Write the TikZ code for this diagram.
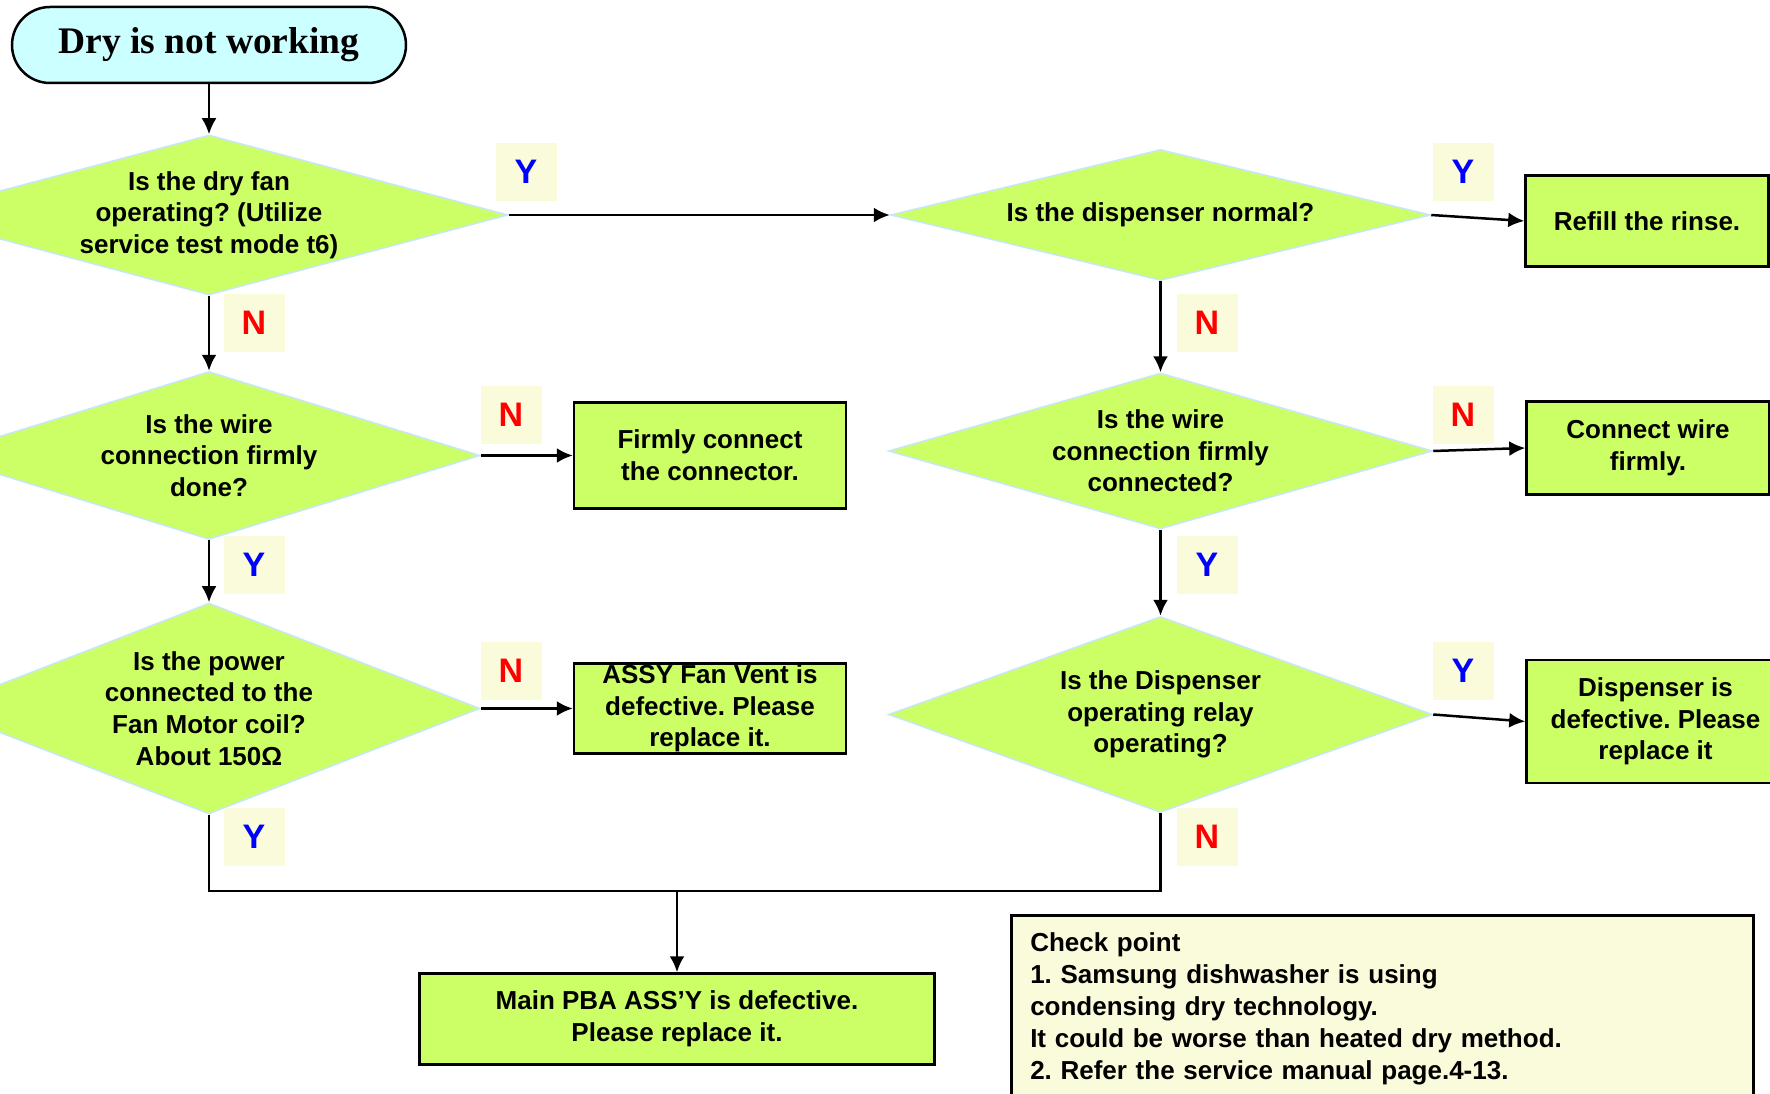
\documentclass[tikz,border=0pt]{standalone}
\usepackage{fontspec}
\setmainfont{Liberation Sans}
\newfontfamily\titlefont{Liberation Serif}
\usepackage{tikz}
\usetikzlibrary{arrows.meta,positioning,shapes.geometric}
\definecolor{qgreen}{HTML}{CCFF66}
\definecolor{edgeblue}{HTML}{C8E6FA}
\definecolor{tagyellow}{HTML}{FAFBDA}
\definecolor{startcyan}{HTML}{CCFFFF}
\newcommand{\qfont}{\fontsize{26}{31.6}\selectfont\bfseries}
\newcommand{\tagfont}{\fontsize{34}{40}\selectfont\bfseries}
\frenchspacing

\begin{document}
\begin{tikzpicture}[
    x=1pt,y=-1pt,
    >={Latex[length=16pt,width=15pt]},
    dec/.style={diamond,draw=edgeblue,line width=1.5pt,fill=qgreen,
                inner sep=0pt,align=center,font=\qfont},
    act/.style={rectangle,draw=black,line width=2.5pt,fill=qgreen,
                inner sep=0pt,align=center,font=\qfont},
    tag/.style={rectangle,fill=tagyellow,minimum width=61pt,minimum height=58pt,
                inner sep=0pt,font=\tagfont},
    ytag/.style={tag,text=blue},
    ntag/.style={tag,text=red},
    fl/.style={->,line width=2.5pt},
    ln/.style={line width=2.5pt},
]
\useasboundingbox (0,0) rectangle (1770,1094);

\node[rectangle,rounded corners=38pt,draw=black,line width=2.5pt,fill=startcyan,
      minimum width=394pt,minimum height=76pt,
      font=\titlefont\fontsize{37.5}{44}\selectfont\bfseries] (start) at (209,45) {Dry is not working};

% left column
\node[dec,minimum width=598pt,minimum height=160pt,aspect=3.74,below=50pt of start] (q1)
  {Is the dry fan\\operating? (Utilize\\service test mode t6)};
\node[dec,minimum width=542pt,minimum height=168pt,aspect=3.23,below=75pt of q1] (q3)
  {Is the wire\\connection firmly\\done?};
\node[dec,minimum width=542pt,minimum height=211pt,aspect=2.57,below=62pt of q3] (q4)
  {Is the power\\connected to the\\Fan Motor coil?\\About 150Ω};

% right column
\node[dec,minimum width=540pt,minimum height=131pt,aspect=4.12,right=381pt of q1] (q2)
  {Is the dispenser normal?};
\node[dec,minimum width=544pt,minimum height=156pt,aspect=3.49,below=91pt of q2] (q5)
  {Is the wire\\connection firmly\\connected?};
\node[dec,minimum width=544pt,minimum height=196pt,aspect=2.78,below=86pt of q5] (q6)
  {Is the Dispenser\\operating relay\\operating?};

% action boxes
\node[act,minimum width=272pt,minimum height=106pt,right=92pt of q3] (firm)
  {Firmly connect\\the connector.};
\node[act,minimum width=272pt,minimum height=90pt,right=92pt of q4] (assy)
  {ASSY Fan Vent is\\defective. Please\\replace it.};
\node[act,minimum width=243pt,minimum height=91pt,right=93pt of q2,yshift=-6pt] (refill)
  {Refill the rinse.};
\node[act,minimum width=243pt,minimum height=93pt,right=92pt of q5,yshift=3pt] (wire)
  {Connect wire\\firmly.};
\node[act,minimum width=258pt,minimum height=123pt,right=92pt of q6,yshift=-7pt] (disp)
  {Dispenser is\\defective. Please\\replace it};
\node[act,minimum width=515pt,minimum height=91pt] (pba) at (677,1019)
  {Main PBA ASS’Y is defective.\\Please replace it.};

% Y / N tags
\node[ytag] (yA) at (526,172) {Y};
\node[ntag] (nA) at (254,323) {N};
\node[ntag] (nB) at (511,415) {N};
\node[ytag] (yB) at (254,565) {Y};
\node[ntag] (nC) at (511,671) {N};
\node[ytag] (yC) at (254,837) {Y};
\node[ytag] (yD) at (1463,172) {Y};
\node[ntag] (nD) at (1207,323) {N};
\node[ntag] (nE) at (1463,415) {N};
\node[ytag] (yE) at (1207,565) {Y};
\node[ytag] (yF) at (1463,671) {Y};
\node[ntag] (nF) at (1207,837) {N};

\draw[fl] (start) -- (q1);
\draw[fl] (q1.east) -- (q2.west);
\draw[fl] (q1) -- (q3);
\draw[fl] (q3) -- (q4);
\draw[fl] (q3.east) -- (firm.west);
\draw[fl] (q4.east) -- (assy.west);
\draw[fl] (q2.east) -- (refill.west);
\draw[fl] (q2) -- (q5);
\draw[fl] (q5) -- (q6);
\draw[fl] (q5.east) -- (wire.west);
\draw[fl] (q6.east) -- (disp.west);

% both Y/N exits merge into the PBA box
\coordinate (join) at (677,891);
\draw[ln] (q4.south) |- (join) -| (q6.south);
\draw[fl] (join) -- (pba);

% check point note (runs off the bottom edge)
\node[rectangle,draw=black,line width=2.5pt,fill=tagyellow,anchor=north west,
      text width=704pt,inner xsep=19pt,inner ysep=17pt,align=left,
      font=\fontsize{26}{32}\selectfont\bfseries] (note) at (1010,914)
  {Check point\\1. Samsung dishwasher is using\\condensing dry technology.\\It could be worse than heated dry method.\\2. Refer the service manual page.4-13.};

\end{tikzpicture}
\end{document}
